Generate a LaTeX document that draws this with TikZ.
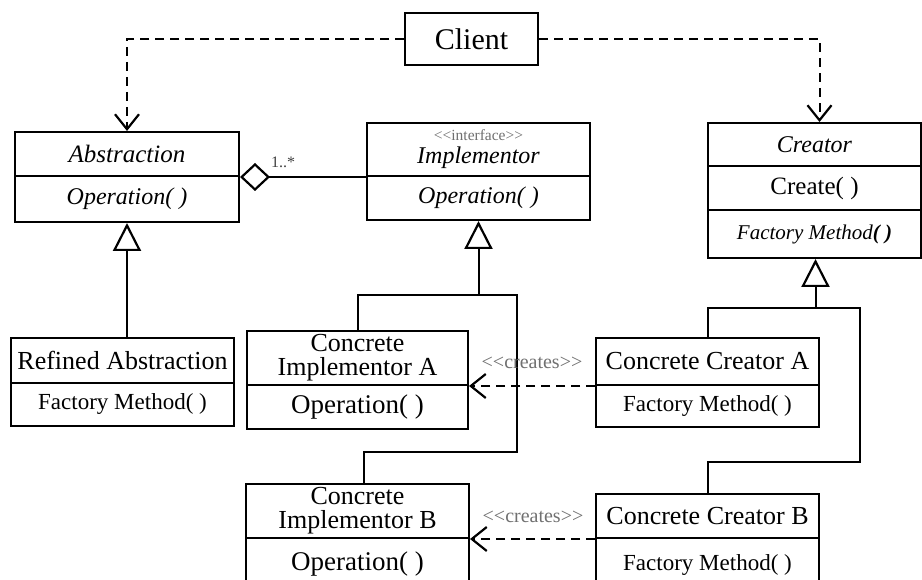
\documentclass[tikz,border=0pt]{standalone}
\usepackage{fontspec}
\setmainfont{Liberation Serif}
\usetikzlibrary{arrows.meta,calc}
\newcommand\myfs[1]{\fontsize{#1}{#1}\selectfont}
\definecolor{stereo}{HTML}{707070}
\definecolor{multc}{HTML}{404040}
\begin{document}
\begin{tikzpicture}[x=1pt,y=-1pt,
  box/.style={draw, line width=2pt, anchor=north west, inner sep=0pt, align=center, font=\myfs{26}},
  conn/.style={line width=2pt},
  dep/.style={line width=2pt, dash pattern=on 9pt off 6pt, -{Straight Barb[length=15pt,width=24pt,line width=2.2pt]}},
  gen/.style={line width=2pt, -{Triangle[open,length=28pt,width=28pt,line width=2.2pt]}},
  agg/.style={line width=2pt, {Diamond[open,length=30pt,width=28pt,line width=2.2pt]}-},
  stlbl/.style={text=stereo, inner sep=0pt, font=\myfs{20}},
]
\clip (0,0) rectangle (922,580);
\useasboundingbox (0,0) rectangle (922,580);

% Client
\node[box, minimum width=133, minimum height=52, font=\myfs{30}] (client) at (404,12) {Client};

% Abstraction
\node[box, minimum width=224, minimum height=44, font=\itshape\myfs{25}] (abs) at (14,131) {Abstraction};
\node[box, minimum width=224, minimum height=46, font=\itshape\myfs{24}] (absop) at (14,175) {Operation( )};

% Implementor
\node[box, minimum width=223, minimum height=53, font=\itshape\fontsize{24}{23}\selectfont] (impl) at (366,122)
  {{\upshape\myfs{15.5}\textcolor{stereo}{<{}<interface>{}>}}\\Implementor};
\node[box, minimum width=223, minimum height=44, font=\itshape\myfs{24}] (implop) at (366,175) {Operation( )};

% Creator
\node[box, minimum width=213, minimum height=43, font=\itshape\myfs{24}] (creator) at (707,122) {Creator};
\node[box, minimum width=213, minimum height=44, font=\myfs{25}] (create) at (707,165) {Create( )};
\node[box, minimum width=213, minimum height=48, font=\itshape\myfs{21}] (creatorfm) at (707,209) {Factory Method{\bfseries( )}};

% Refined Abstraction
\node[box, minimum width=223, minimum height=45] (ref) at (10,337) {Refined Abstraction};
\node[box, minimum width=223, minimum height=43, font=\myfs{23}] (reffm) at (10,382) {Factory Method( )};

% Concrete Implementor A
\node[box, minimum width=221, minimum height=54, font=\fontsize{26}{24}\selectfont] (ciA) at (246,330) {Concrete\\Implementor A};
\node[box, minimum width=221, minimum height=44, font=\myfs{27}] (ciAop) at (246,384) {Operation( )};

% Concrete Creator A
\node[box, minimum width=223, minimum height=47] (ccA) at (595,337) {Concrete Creator A};
\node[box, minimum width=223, minimum height=42, font=\myfs{23}] (ccAfm) at (595,384) {Factory Method( )};

% Concrete Implementor B
\node[box, minimum width=223, minimum height=54, font=\fontsize{26}{24}\selectfont] (ciB) at (245,483) {Concrete\\Implementor B};
\node[box, minimum width=223, minimum height=53, font=\myfs{27}] (ciBop) at (245,537) {Operation( )};

% Concrete Creator B
\node[box, minimum width=223, minimum height=44] (ccB) at (595,493) {Concrete Creator B};
\node[box, minimum width=223, minimum height=55, font=\myfs{23}] (ccBfm) at (595,537) {Factory Method( )};

% Client dependencies
\draw[dep] (client.west) -| (abs.north);
\draw[dep] (client.east) -| ($(creator.north)+(5,0)$);

% Aggregation
\draw[agg] (abs.south east) -- (impl.south west);
\node[inner sep=0pt, text=multc, font=\myfs{16}] (mult) at (283,162) {1..*};

% Generalization: Refined Abstraction
\draw[gen] (absop.south |- ref.north) -- (absop.south);

% Generalization: Implementor
\coordinate (ij) at ($(implop.south)+(0,74)$);
\coordinate (ib1) at (517,452);
\draw[gen] (ij) -- (implop.south);
\draw[conn] (ciA.north) |- (ij) -| (ib1) -| ($(ciB.north)+(6,0)$);

% Generalization: Creator
\coordinate (cj) at ($(creatorfm.south)+(1,49)$);
\coordinate (cb1) at (860,462);
\draw[gen] (cj) -- ($(creatorfm.south)+(1,0)$);
\draw[conn] (ccA.north) |- (cj) -| (cb1) -| (ccB.north);

% creates
\draw[dep] (ccA.south west) -- (ciA.south east);
\node[stlbl] (crA) at (532,363) {<{}<creates>{}>};
\draw[dep] (ccB.south west) -- (ciB.south east);
\node[stlbl] (crB) at (533,517) {<{}<creates>{}>};
\end{tikzpicture}
\end{document}
